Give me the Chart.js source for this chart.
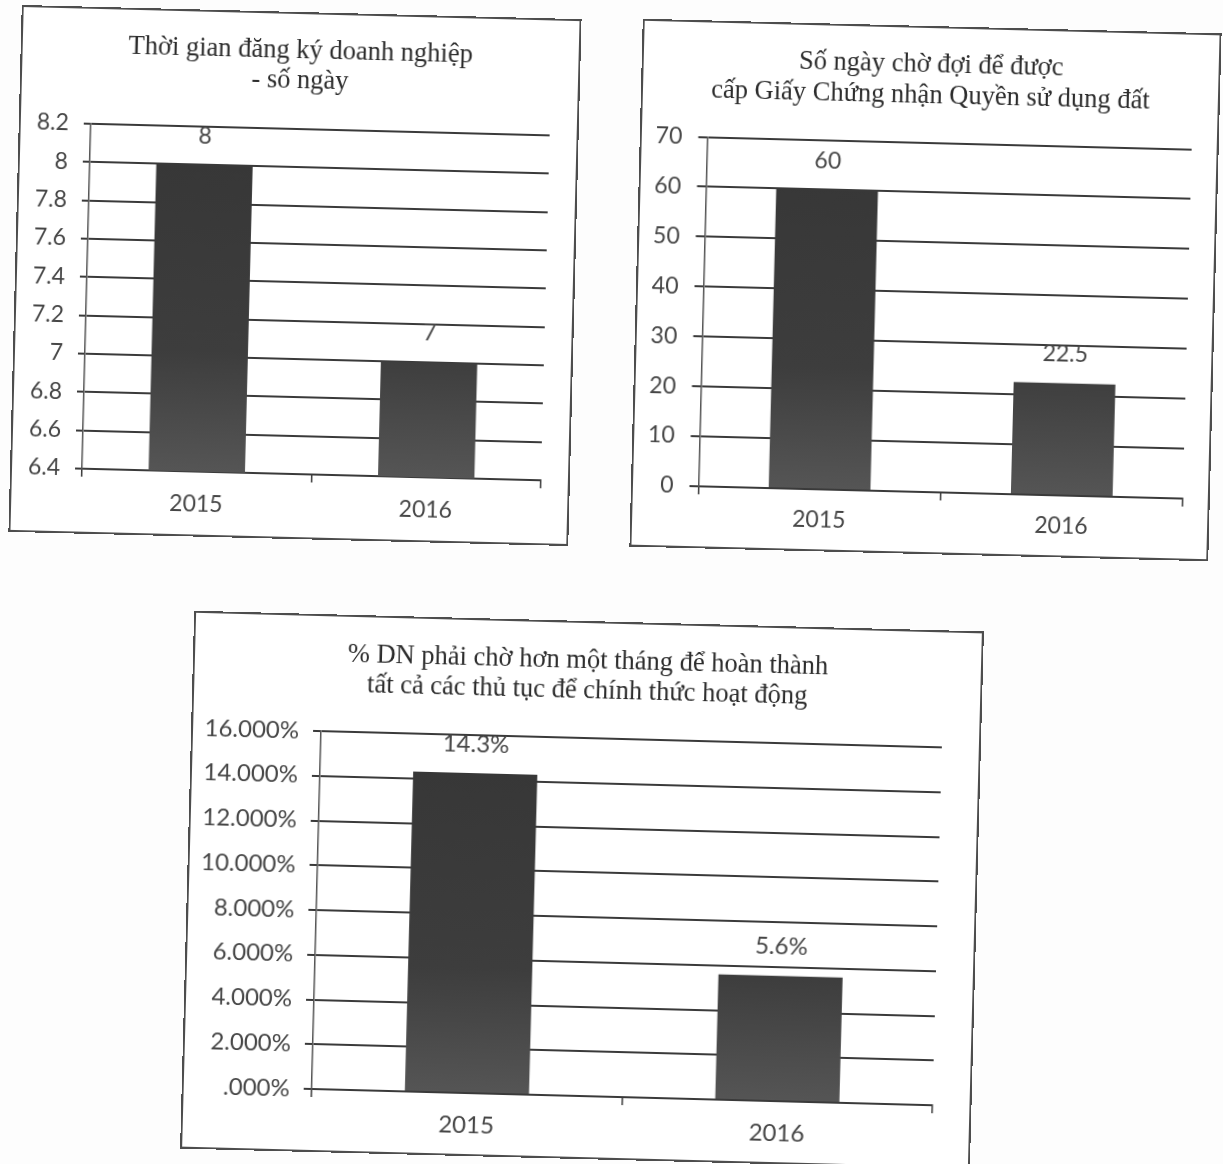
<!DOCTYPE html>
<html>
<head>
<meta charset="utf-8">
<script src="https://cdn.jsdelivr.net/npm/chart.js@4.4.1/dist/chart.umd.min.js"></script>
<style>
  html, body { margin: 0; padding: 0; background: #fdfdfd; }
  body { width: 1223px; height: 1164px; position: relative; overflow: hidden; }
  .panel { position: absolute; transform-origin: 50% 50%; background: #fff; }
  .panel canvas { position: absolute; left: 0; top: 0; }
  .panel .frame { position: absolute; left: 0; top: 0; right: 0; bottom: 0;
                  border: 2px solid #4d4d4d; box-sizing: border-box; pointer-events: none; }
</style>
</head>
<body>
<div id="p1" class="panel"><canvas id="c1"></canvas><div class="frame"></div></div>
<div id="p2" class="panel"><canvas id="c2"></canvas><div class="frame"></div></div>
<div id="p3" class="panel"><canvas id="c3"></canvas><div class="frame"></div></div>
<script>
// ---- data ----
const CATEGORIES = ['2015', '2016'];

const REG_TITLE = ['Thời gian đăng ký doanh nghiệp', '- số ngày'];
const REG_DAYS = [8, 7];
const REG_LABELS = ['8', '7'];
const REG_TICKS = [6.4, 6.6, 6.8, 7.0, 7.2, 7.4, 7.6, 7.8, 8.0, 8.2];
const REG_TICK_LABELS = ['6.4', '6.6', '6.8', '7', '7.2', '7.4', '7.6', '7.8', '8', '8.2'];

const LAND_TITLE = ['Số ngày chờ đợi để được', 'cấp Giấy Chứng nhận Quyền sử dụng đất'];
const LAND_DAYS = [60, 22.5];
const LAND_LABELS = ['60', '22.5'];
const LAND_TICKS = [0, 10, 20, 30, 40, 50, 60, 70];
const LAND_TICK_LABELS = ['0', '10', '20', '30', '40', '50', '60', '70'];

const WAIT_TITLE = ['% DN phải chờ hơn một tháng để hoàn thành', 'tất cả các thủ tục để chính thức hoạt động'];
const WAIT_SHARE = [0.143, 0.056];
const WAIT_LABELS = ['14.3%', '5.6%'];
const WAIT_TICKS = [0, 0.02, 0.04, 0.06, 0.08, 0.10, 0.12, 0.14, 0.16];
const WAIT_TICK_LABELS = ['.000%', '2.000%', '4.000%', '6.000%', '8.000%', '10.000%', '12.000%', '14.000%', '16.000%'];

// ---- styling ----
const INK = '#3a3a3a';
const TEXT = '#464646';
const SANS = 'Lato, "Open Sans", sans-serif';
const SERIF = '"Liberation Serif", "DejaVu Serif", serif';

// Two-line heading centred on the whole frame
const frameTitle = {
  id: 'frameTitle',
  afterDraw(chart, args, opts) {
    const ctx = chart.ctx;
    ctx.save();
    ctx.font = opts.size + 'px ' + SERIF;
    ctx.fillStyle = '#2c2c2c';
    ctx.textAlign = 'center';
    ctx.textBaseline = 'middle';
    opts.lines.forEach((line, i) => ctx.fillText(line, chart.width / 2, opts.top + i * opts.step));
    ctx.restore();
  }
};

// Bar value labels drawn just above each bar
const valueLabels = {
  id: 'valueLabels',
  afterDatasetsDraw(chart, args, opts) {
    const ctx = chart.ctx;
    const meta = chart.getDatasetMeta(0);
    ctx.save();
    ctx.font = opts.size + 'px ' + SANS;
    ctx.fillStyle = TEXT;
    ctx.textAlign = 'center';
    ctx.textBaseline = 'middle';
    meta.data.forEach((el, i) => ctx.fillText(opts.labels[i], el.x, el.y - opts.offset));
    ctx.restore();
  }
};

function barFill(context) {
  const area = context.chart.chartArea;
  if (!area) return '#3d3d3d';
  const g = context.chart.ctx.createLinearGradient(0, area.top, 0, area.bottom);
  g.addColorStop(0, '#363636');
  g.addColorStop(0.65, '#3d3d3d');
  g.addColorStop(1, '#555555');
  return g;
}

function makePanel(id, box, plot, cfg) {
  const panel = document.getElementById('p' + id);
  panel.style.left = (box.cx - box.w / 2) + 'px';
  panel.style.top = (box.cy - box.h / 2) + 'px';
  panel.style.width = box.w + 'px';
  panel.style.height = box.h + 'px';
  panel.style.transform = 'rotate(' + box.angle + 'deg)';
  const canvas = document.getElementById('c' + id);
  canvas.width = box.w;
  canvas.height = box.h;
  canvas.style.width = box.w + 'px';
  canvas.style.height = box.h + 'px';

  return new Chart(canvas, {
    type: 'bar',
    data: {
      labels: CATEGORIES,
      datasets: [{
        data: cfg.values,
        backgroundColor: barFill,
        borderWidth: 0,
        categoryPercentage: 1,
        barPercentage: cfg.barPct
      }]
    },
    options: {
      responsive: false,
      animation: false,
      devicePixelRatio: 1,
      layout: { padding: { left: 0, right: box.w - plot.right, top: plot.top, bottom: 0 } },
      plugins: {
        legend: { display: false },
        tooltip: { enabled: false },
        title: { display: false },
        frameTitle: { lines: cfg.title, size: cfg.titleSize, top: plot.titleTop, step: plot.titleLine },
        valueLabels: { labels: cfg.valueLabels, offset: 29, size: cfg.labelSize }
      },
      scales: {
        x: {
          grid: { display: true, drawOnChartArea: false, drawTicks: true, tickLength: 8, color: INK, lineWidth: 1.5 },
          border: { display: true, color: INK, width: 2 },
          ticks: { color: TEXT, font: { family: SANS, size: cfg.labelSize }, padding: plot.xPad, maxRotation: 0 },
          afterFit(s) { s.height = box.h - plot.bottom; }
        },
        y: {
          min: cfg.ticks[0],
          max: cfg.ticks[cfg.ticks.length - 1],
          afterBuildTicks(s) { s.ticks = cfg.ticks.map(v => ({ value: v })); },
          grid: { color: INK, lineWidth: 2, drawTicks: true, tickLength: plot.tickLen },
          border: { display: true, color: '#555', width: 1.5 },
          ticks: {
            color: TEXT,
            font: { family: SANS, size: cfg.tickSize },
            padding: plot.yPad,
            callback: (v, i) => cfg.tickLabels[i]
          },
          afterFit(s) { s.width = plot.left; }
        }
      }
    },
    plugins: [valueLabels, frameTitle]
  });
}

makePanel(1,
  { cx: 295, cy: 275, w: 560, h: 527, angle: 1.45 },
  { left: 72, right: 531, top: 117, bottom: 462, titleTop: 39, titleLine: 30, tickLen: 7, yPad: 15, xPad: 11 },
  { title: REG_TITLE, values: REG_DAYS, valueLabels: REG_LABELS, ticks: REG_TICKS, tickLabels: REG_TICK_LABELS,
    barPct: 0.42, titleSize: 26.5, tickSize: 23, labelSize: 23 });

makePanel(2,
  { cx: 925, cy: 290, w: 579, h: 528, angle: 1.45 },
  { left: 67.5, right: 552, top: 116.5, bottom: 466, titleTop: 39.5, titleLine: 31, tickLen: 9, yPad: 16, xPad: 9 },
  { title: LAND_TITLE, values: LAND_DAYS, valueLabels: LAND_LABELS, ticks: LAND_TICKS, tickLabels: LAND_TICK_LABELS,
    barPct: 0.42, titleSize: 26.5, tickSize: 23, labelSize: 23 });

makePanel(3,
  { cx: 581.5, cy: 889.75, w: 790, h: 538, angle: 1.5 },
  { left: 130, right: 751, top: 117, bottom: 475, titleTop: 40, titleLine: 30, tickLen: 8, yPad: 14, xPad: 10 },
  { title: WAIT_TITLE, values: WAIT_SHARE, valueLabels: WAIT_LABELS, ticks: WAIT_TICKS, tickLabels: WAIT_TICK_LABELS,
    barPct: 0.40, titleSize: 26.5, tickSize: 24, labelSize: 24 });
</script>
</body>
</html>
